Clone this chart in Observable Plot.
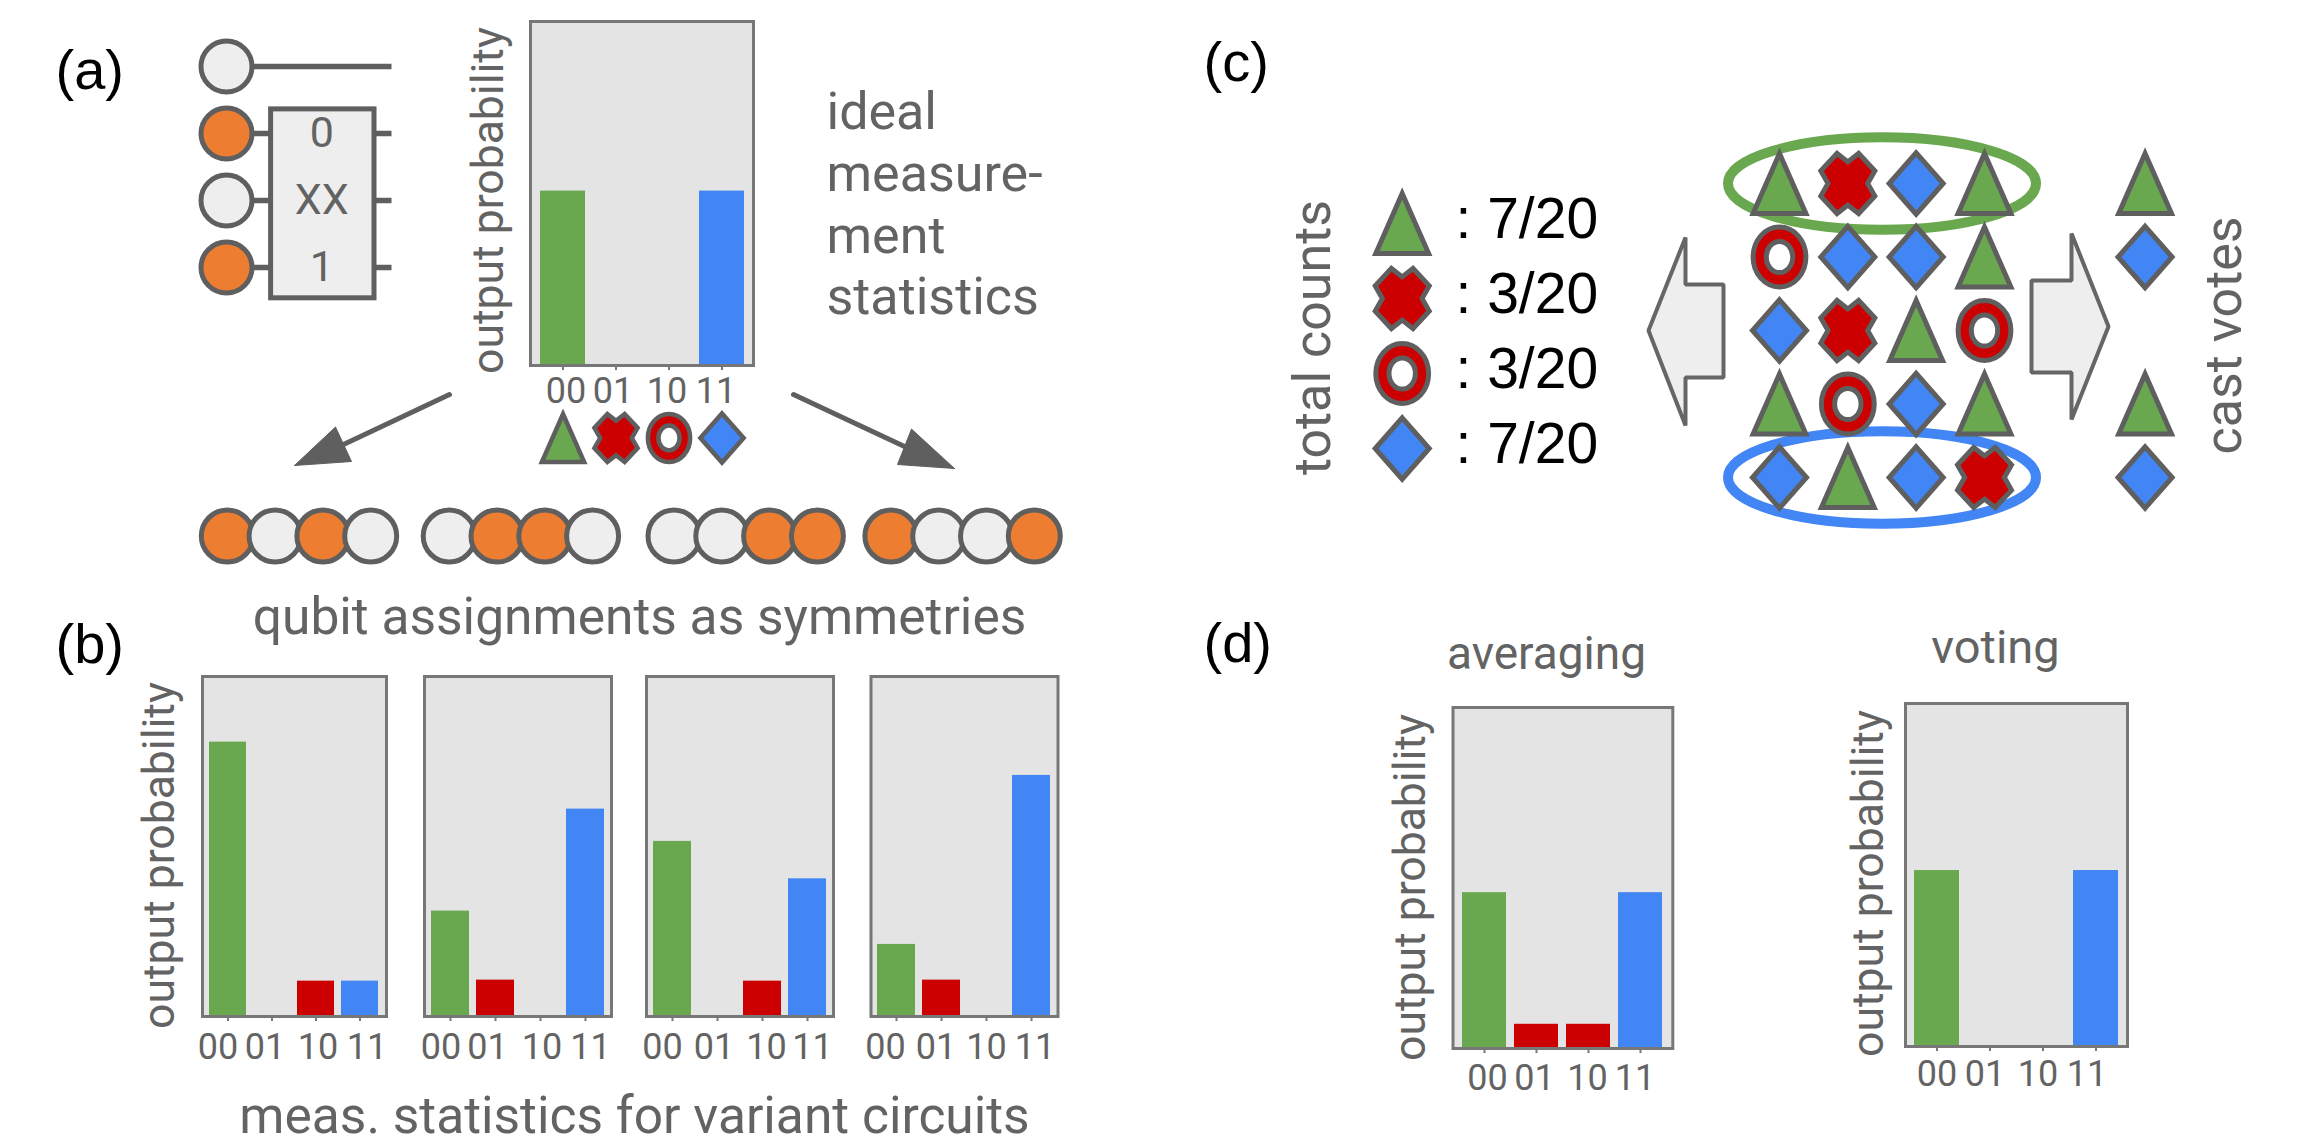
<!DOCTYPE html>
<html>
<head>
<meta charset="utf-8">
<style>
html,body{margin:0;padding:0;background:#fff}
#page{position:relative;width:2308px;height:1146px;overflow:hidden}
#page svg{position:absolute;left:0;top:0}
</style>
<script src="https://cdn.jsdelivr.net/npm/d3@7"></script>
<script src="https://cdn.jsdelivr.net/npm/@observablehq/plot@0.6"></script>
</head>
<body>
<div id="page"></div>
<script>
// ---------- data ----------
const states = ["00", "01", "10", "11"];
const idealProbs = [0.507, 0, 0, 0.507];
const variant1Probs = [0.807, 0, 0.104, 0.104];
const variant2Probs = [0.31, 0.107, 0, 0.61];
const variant3Probs = [0.515, 0, 0.104, 0.405];
const variant4Probs = [0.212, 0.107, 0, 0.709];
const averagingProbs = [0.457, 0.071, 0.071, 0.457];
const votingProbs = [0.513, 0, 0, 0.513];

const kinds = ["triangle", "cross", "ring", "diamond"];
const totalCounts = ["7/20", "3/20", "3/20", "7/20"];
const shotGrid = [
  ["triangle", "cross", "diamond", "triangle"],
  ["ring", "diamond", "diamond", "triangle"],
  ["diamond", "cross", "triangle", "ring"],
  ["triangle", "ring", "diamond", "triangle"],
  ["diamond", "triangle", "diamond", "cross"]
];
const castVotes = ["triangle", "diamond", null, "triangle", "diamond"];
const circuitQubits = [0, 1, 0, 1];
const gateLabels = ["0", "XX", "1"];
const assignments = [[1, 0, 1, 0], [0, 1, 1, 0], [0, 0, 1, 1], [1, 0, 0, 1]];

// ---------- styles ----------
const W = 2308, H = 1146;
const GREEN = "#6aa84f", RED = "#cc0000", BLUE = "#4285f4", ORANGE = "#ed7d31";
const LIGHT = "#eeeeee", PANEL = "#e4e4e4", DARK = "#5f5f5f", TEXT = "#636363";
const SANS = "Roboto", LETTER = "'Liberation Sans'";
const page = document.getElementById("page");

function add(options) {
  const el = Plot.plot({
    width: W, height: H, marginLeft: 0, marginRight: 0, marginTop: 0, marginBottom: 0,
    style: {background: "transparent", overflow: "visible", maxWidth: "none", height: H + "px"},
    ...options
  });
  page.appendChild(el);
  return el;
}
const pageX = {domain: [0, W], range: [0, W], axis: null};
const pageY = {domain: [0, H], range: [0, H], axis: null};

// ---------- glyphs ----------
function poly(points) {
  return {draw(c, size) {
    const r = Math.sqrt(size / Math.PI);
    points.forEach(([x, y], i) => i ? c.lineTo(x * r, y * r) : c.moveTo(x * r, y * r));
    c.closePath();
  }};
}
function oval(c, rx, ry, ccw) {
  const k = 0.5523, s = ccw ? -1 : 1;
  c.moveTo(rx, 0);
  c.bezierCurveTo(rx, s * k * ry, k * rx, s * ry, 0, s * ry);
  c.bezierCurveTo(-k * rx, s * ry, -rx, s * k * ry, -rx, 0);
  c.bezierCurveTo(-rx, -s * k * ry, -k * rx, -s * ry, 0, -s * ry);
  c.bezierCurveTo(k * rx, -s * ry, rx, -s * k * ry, rx, 0);
  c.closePath();
}
const triangleGlyph = poly([[0, -1.0], [0.88, 1.0], [-0.88, 1.0]]);
const diamondGlyph = poly([[0, -1.02], [0.9, 0], [0, 1.02], [-0.9, 0]]);
const crossGlyph = poly([[0, -0.72], [0.36, -1.0], [0.9, -0.42], [0.66, 0], [0.9, 0.42], [0.36, 1.0], [0, 0.72], [-0.36, 1.0], [-0.9, 0.42], [-0.66, 0], [-0.9, -0.42], [-0.36, -1.0]]);
const ringGlyph = {draw(c, size) {
  const r = Math.sqrt(size / Math.PI);
  oval(c, 0.88 * r, 1.0 * r, false);
  oval(c, 0.44 * r, 0.52 * r, true);
}};
const ellipseGlyph = {draw(c, size) {
  const r = Math.sqrt(size / Math.PI);
  oval(c, r, 0.3 * r, false);
}};
const symbolScale = {domain: kinds, range: [triangleGlyph, crossGlyph, ringGlyph, diamondGlyph]};
const fillScale = {type: "ordinal", domain: kinds, range: [GREEN, RED, RED, BLUE]};

// ---------- page layer: texts, arrows, block arrows ----------
const panelLetters = [
  {t: "(a)", x: 55, y: 88}, {t: "(b)", x: 55, y: 662},
  {t: "(c)", x: 1203, y: 80}, {t: "(d)", x: 1203, y: 661}
];
const blockTexts = [
  {t: "ideal", x: 826, y: 128}, {t: "measure-", x: 826, y: 190},
  {t: "ment", x: 826, y: 252}, {t: "statistics", x: 826, y: 313}
];
const captions = [
  {t: "qubit assignments as symmetries", x: 639, y: 633, s: 51.5},
  {t: "meas. statistics for variant circuits", x: 634, y: 1132, s: 51.5},
  {t: "averaging", x: 1546, y: 668, s: 46},
  {t: "voting", x: 1995, y: 662, s: 47}
];
const sideTexts = [
  {t: "total counts", x: 1329, y: 337},
  {t: "cast votes", x: 2240, y: 335}
];
const arrowShafts = [
  [[449, 394], [343, 444]],
  [[793, 394], [904, 446]]
];
const arrowHeads = [
  [[294, 465], [335, 426.5], [351, 461]],
  [[954, 468], [911, 428.6], [897, 464]]
];
const blockArrows = [
  [[1648, 330], [1685, 237], [1685, 284], [1723, 284], [1723, 377], [1685, 377], [1685, 425]],
  [[2031, 280], [2071, 280], [2071, 233], [2108, 326], [2071, 419], [2071, 372], [2031, 372]]
];
const pairs = a => a.map(([x, y]) => ({x, y}));

add({
  x: pageX, y: pageY,
  marks: [
    Plot.text(panelLetters, {x: "x", y: "y", text: "t", fontFamily: LETTER, fontSize: 56, fill: "#000", textAnchor: "start", lineAnchor: "bottom"}),
    Plot.text(blockTexts, {x: "x", y: "y", text: "t", fontFamily: SANS, fontSize: 52, fill: TEXT, textAnchor: "start", lineAnchor: "bottom"}),
    Plot.text(captions, {x: "x", y: "y", text: "t", fontFamily: SANS, fontSize: "s", fill: TEXT, textAnchor: "middle", lineAnchor: "bottom"}),
    Plot.text(sideTexts, {x: "x", y: "y", text: "t", rotate: -90, fontFamily: SANS, fontSize: 52, fill: TEXT, textAnchor: "middle", lineAnchor: "bottom"}),
    ...arrowShafts.map(a => Plot.line(pairs(a), {x: "x", y: "y", stroke: DARK, strokeWidth: 5})),
    ...arrowHeads.map(a => Plot.line(pairs([...a, a[0]]), {x: "x", y: "y", stroke: DARK, strokeWidth: 1, fill: DARK})),
    ...blockArrows.map(a => Plot.line(pairs([...a, a[0]]), {x: "x", y: "y", stroke: "#666", strokeWidth: 4, fill: LIGHT, strokeLinejoin: "miter", curve: "linear-closed"}))
  ]
});

// ---------- circuit ----------
add({
  x: pageX,
  y: {domain: [0, 3], range: [66, 267], axis: null},
  color: {type: "ordinal", domain: [0, 1], range: [LIGHT, ORANGE]},
  marks: [
    Plot.ruleY(circuitQubits.map((q, i) => i), {y: d => d, x1: 226, x2: 391.5, stroke: DARK, strokeWidth: 5.5}),
    Plot.rect([0], {x1: 270.6, x2: 374, y1: 0.64, y2: 3.46, fill: LIGHT, stroke: DARK, strokeWidth: 5}),
    Plot.text(gateLabels, {x: 321.3, y: (d, i) => i + 1, text: d => d, fontFamily: SANS, fontSize: 43, fill: TEXT}),
    Plot.dot(circuitQubits.map((q, i) => ({q, i})), {x: 226, y: "i", r: 25.5, fill: "q", stroke: DARK, strokeWidth: 5})
  ]
});

// ---------- qubit assignments ----------
const assignmentStarts = [226.8, 448.7, 673.5, 890.4];
assignments.forEach((group, g) => {
  add({
    x: {domain: [0, 3], range: [assignmentStarts[g], assignmentStarts[g] + 143.4], axis: null},
    y: {domain: [0, 1], range: [535.5, 535.5 + 1], axis: null},
    color: {type: "ordinal", domain: [0, 1], range: [LIGHT, ORANGE]},
    marks: [Plot.dot(group.map((on, i) => ({on, i})), {x: "i", y: 0, r: 26, fill: "on", stroke: DARK, strokeWidth: 5})]
  });
});

// ---------- bar panels ----------
const barPanels = [
  {p: idealProbs, x0: 530, x1: 753, y0: 21, y1: 365, pad: 0.16, off: [3, -3, -2, -6], base: 37, lx: -42, ly: 7},
  {p: variant1Probs, x0: 202, x1: 386, y0: 676, y1: 1016, pad: 0.15, off: [-10, -7, 2, 7], base: 42, lx: -43, ly: 9},
  {p: variant2Probs, x0: 424, x1: 611, y0: 676, y1: 1016, pad: 0.15, off: [-9.6, -8, 1.6, 5], base: 42},
  {p: variant3Probs, x0: 646, x1: 833, y0: 676, y1: 1016, pad: 0.15, off: [-10, -3.5, 4, 5], base: 42},
  {p: variant4Probs, x0: 870.5, x1: 1057.5, y0: 676, y1: 1016, pad: 0.15, off: [-11, -5.5, 0, 3.5], base: 42},
  {p: averagingProbs, x0: 1452.5, x1: 1672.3, y0: 707, y1: 1048, pad: 0.155, off: [3, -2, -1, -5.5], base: 41.5, lx: -42, ly: 9.5},
  {p: votingProbs, x0: 1905, x1: 2127, y0: 703, y1: 1046, pad: 0.155, off: [0, -5, -5, -9], base: 39, lx: -37, ly: 8.5}
];
barPanels.forEach(b => {
  const rows = states.map((s, i) => ({state: s, prob: b.p[i]}));
  add({
    marginLeft: b.x0, marginRight: W - b.x1, marginTop: b.y0, marginBottom: H - b.y1,
    x: {type: "band", domain: states, padding: b.pad, axis: null},
    y: {domain: [0, 1], axis: null},
    color: {type: "ordinal", domain: states, range: [GREEN, RED, RED, BLUE]},
    marks: [
      Plot.frame({fill: PANEL, stroke: null}),
      Plot.barY(rows, {x: "state", y: "prob", fill: "state"}),
      Plot.frame({stroke: "#777", strokeWidth: 3}),
      Plot.axisX({ticks: states, anchor: "bottom", tickSize: 5, stroke: "#777", strokeWidth: 2, label: null, tickFormat: () => ""}),
      ...states.map((s, i) => Plot.text([s], {x: d => d, frameAnchor: "bottom", dx: b.off[i], dy: b.base, lineAnchor: "bottom", fontFamily: SANS, fontSize: 36, fill: TEXT})),
      ...(b.lx === undefined ? [] : [Plot.text(["output probability"], {text: d => d, frameAnchor: "left", textAnchor: "middle", rotate: -90, dx: b.lx, dy: b.ly, lineAnchor: "middle", fontFamily: SANS, fontSize: 44.5, fill: TEXT})])
    ]
  });
});

// ---------- symbols under the ideal panel ----------
add({
  x: {type: "band", domain: states, padding: 0.16, range: [530, 753], axis: null},
  y: {domain: [0, 1], range: [437.5, 438.5], axis: null},
  symbol: symbolScale, color: fillScale,
  marks: [Plot.dot(states.map((s, i) => ({s, k: kinds[i]})), {x: "s", y: 0, symbol: "k", r: 24, fill: "k", stroke: DARK, strokeWidth: 4.5, strokeLinejoin: "miter"})]
});

// ---------- total counts legend ----------
add({
  x: pageX,
  y: {domain: [0, 3], range: [223, 448], axis: null},
  symbol: symbolScale, color: fillScale,
  marks: [
    Plot.dot(kinds, {x: 1401.7, y: (d, i) => i, symbol: d => d, r: 30, fill: d => d, stroke: DARK, strokeWidth: 5, strokeLinejoin: "miter"}),
    Plot.text(totalCounts, {x: 1455, y: (d, i) => i, dy: -4, text: d => ": " + d, textAnchor: "start", fontFamily: LETTER, fontSize: 57, fill: "#000"})
  ]
});

// ---------- shots grid and cast votes ----------
const castColumn = 5.35;
const shotRows = shotGrid.flatMap((row, r) => row.map((k, c) => ({r, c, k})));
const voteRows = castVotes.flatMap((k, r) => k ? [{r, c: castColumn, k}] : []);
add({
  x: {domain: [0, 3], range: [1779, 1984], axis: null},
  y: {domain: [0, 4], range: [183, 477], axis: null},
  symbol: symbolScale, color: fillScale,
  marks: [
    Plot.dot([{r: 0, e: GREEN}, {r: 4, e: BLUE}], {x: 1.5, y: "r", r: 154, symbol: ellipseGlyph, fill: "none", stroke: "e", strokeWidth: 10}),
    Plot.dot([...shotRows, ...voteRows], {x: "c", y: "r", symbol: "k", r: 30, fill: "k", stroke: DARK, strokeWidth: 5, strokeLinejoin: "miter"})
  ]
});
</script>
</body>
</html>
